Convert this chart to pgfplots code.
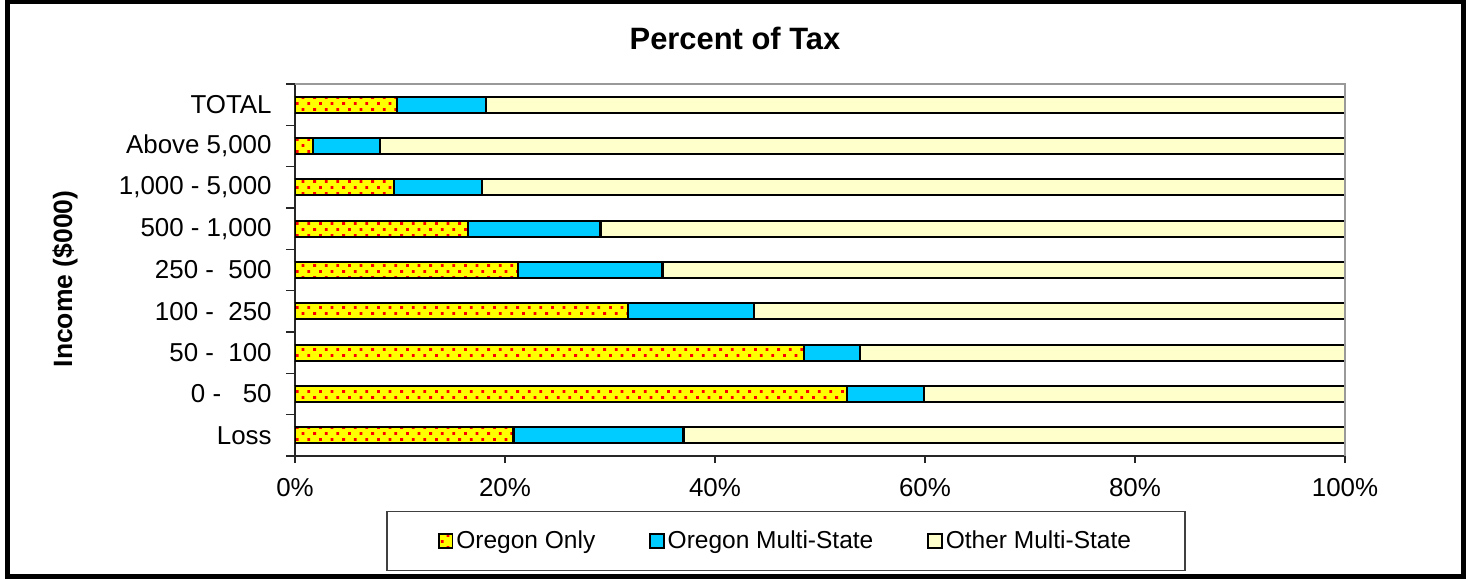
\documentclass[border=0pt]{standalone}
\usepackage{pgfplots}
\pgfplotsset{compat=1.18}
\usepackage{pgfplotstable}
\usepackage{fontspec}
\setmainfont{Liberation Sans}
\usetikzlibrary{patterns}
\definecolor{ory}{HTML}{FFFF00}
\definecolor{orb}{HTML}{00CCFF}
\definecolor{orc}{HTML}{FFFFCC}
\pgfdeclarepatternformonly{reddots}{\pgfqpoint{0bp}{0bp}}{\pgfqpoint{4.4bp}{4.4bp}}{\pgfqpoint{5.8bp}{6bp}}{%
 \pgfpathrectangle{\pgfqpoint{0bp}{0bp}}{\pgfqpoint{1.4bp}{1.4bp}}%
 \pgfpathrectangle{\pgfqpoint{2.9bp}{3bp}}{\pgfqpoint{1.4bp}{1.4bp}}%
 \pgfusepath{fill}}
\pgfplotstableread{
y oo om ot
0 20.8 16.2 63.0
1 52.6 7.3 40.1
2 48.5 5.3 46.2
3 31.7 12.0 56.3
4 21.2 13.8 65.0
5 16.5 12.6 70.9
6 9.4 8.4 82.2
7 1.7 6.4 91.9
8 9.7 8.5 81.8
}\datatable
\begin{document}
\begin{tikzpicture}
\useasboundingbox (-147.5bp,-61.5bp) rectangle (585.5bp,228bp);
\draw[line width=2.5bp] (-143.75bp,-60bp) rectangle (584bp,227bp);
\begin{axis}[
 at={(0,0)}, anchor=south west,
 scale only axis, width=525bp, height=186bp,
 xbar stacked, bar width=8bp,
 xmin=0, xmax=100, ymin=-0.5, ymax=8.5,
 axis x line*=bottom, axis y line*=left,
 axis line style={black!85, line width=0.8bp},
 tick align=outside,
 major tick length=3.5bp, minor tick length=4.5bp,
 xtick={0,20,40,60,80,100},
 xticklabels={0\%,20\%,40\%,60\%,80\%,100\%},
 ytick={0,1,2,3,4,5,6,7,8},
 yticklabels={Loss,{0 -\ \ \ 50},{50 -\ \ 100},{100 -\ \ 250},{250 -\ \ 500},{500 - 1,000},{1,000 - 5,000},{Above 5,000},TOTAL},
 minor ytick={-0.5,0.5,1.5,2.5,3.5,4.5,5.5,6.5,7.5,8.5},
 major y tick style={draw=none},
 minor y tick style={black!85, line width=0.8bp},
 major x tick style={black!85, line width=0.8bp},
 xticklabel style={font=\fontsize{13}{15}\selectfont, inner sep=0pt, anchor=north, yshift=-7.5bp},
 yticklabel style={font=\fontsize{13}{15}\selectfont, inner sep=0pt, anchor=east, xshift=-8bp},
 title={Percent of Tax},
 title style={at={(rel axis cs:0.419,1.122)}, anchor=center, yshift=-6pt, font=\bfseries\fontsize{15.5}{18}\selectfont, inner sep=0pt},
 ylabel={Income (\$000)},
 ylabel style={at={(rel axis cs:-0.219,0.476)}, anchor=center, font=\bfseries\fontsize{13.3}{16}\selectfont, inner sep=0pt},
 legend columns=3,
 legend style={at={(rel axis cs:0.4676,-0.2285)}, anchor=center, draw=black!75, line width=0.8bp,
   font=\fontsize{12.3}{14}\selectfont, inner xsep=25.5bp, inner ysep=7.5bp,
   nodes={inner xsep=1.5bp, inner ysep=2bp},
   /tikz/every even column/.append style={column sep=25.5bp}},
 legend image code/.code={\draw[#1,line width=0.9bp] (0bp,-3.4bp) rectangle (6.8bp,3.4bp);},
]
\addplot[fill=ory, draw=black, line width=1.1bp, postaction={pattern=reddots, pattern color=red}] table[x=oo,y=y]{\datatable};
\addplot[fill=orb, draw=black, line width=1.1bp] table[x=om,y=y]{\datatable};
\addplot[fill=orc, draw=black, line width=1.1bp] table[x=ot,y=y]{\datatable};
\legend{Oregon Only,Oregon Multi-State,Other Multi-State}
\end{axis}
\draw[gray!80, line width=1bp] (0,186bp) -- (525bp,186bp) -- (525bp,0);
\end{tikzpicture}
\end{document}
